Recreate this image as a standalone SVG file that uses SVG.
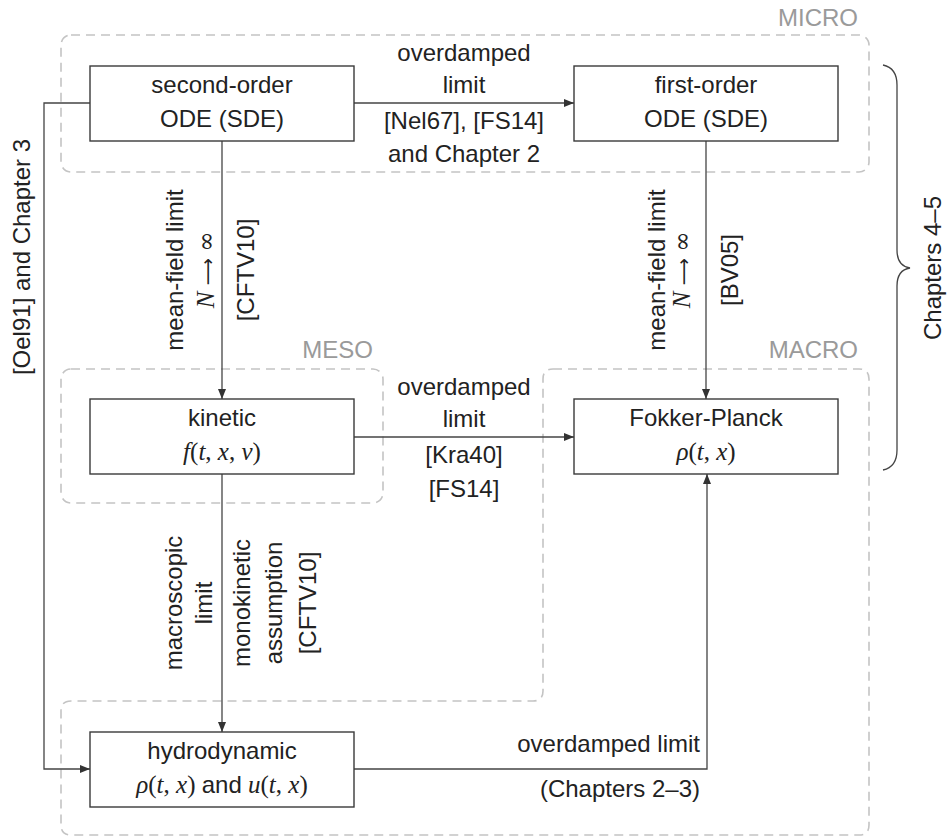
<svg xmlns="http://www.w3.org/2000/svg" width="947" height="840" viewBox="0 0 947 840">
<defs>
<style>
.t{font-family:"Liberation Sans",Arial,sans-serif;font-size:24px;fill:#222;}
.m{font-family:"Liberation Serif","DejaVu Serif",serif;font-size:25px;fill:#222;}
.i{font-style:italic;}
.ar{font-family:"DejaVu Sans",sans-serif;font-size:19px;}
.s{font-family:"DejaVu Serif",serif;font-size:24px;}
.g{font-family:"Liberation Sans",Arial,sans-serif;font-size:24px;fill:#9a9a9a;}
.grp{fill:none;stroke:#c4c4c4;stroke-width:1.6;stroke-dasharray:9 6;}
.box{fill:#fff;stroke:#3a3a3a;stroke-width:1.4;}
.c{fill:none;stroke:#444;stroke-width:1.3;}
</style>
<marker id="ah" viewBox="0 0 10 8" refX="10" refY="4" markerWidth="10" markerHeight="8" markerUnits="userSpaceOnUse" orient="auto">
<path d="M0,0 L10,4 L0,8 Z" fill="#333"/>
</marker>
</defs>
<rect width="947" height="840" fill="#fff"/>

<g id="groups">
<rect class="grp" x="61" y="35" width="808" height="137" rx="10"/>
<text class="g" x="858" y="26" text-anchor="end">MICRO</text>
<rect class="grp" x="61" y="369" width="322" height="134" rx="10"/>
<text class="g" x="373" y="358" text-anchor="end">MESO</text>
<path class="grp" d="M553,369 H859 Q869,369 869,379 V825 Q869,835 859,835 H71 Q61,835 61,825 V711 Q61,701 71,701 H533 Q543,701 543,691 V379 Q543,369 553,369 Z"/>
<text class="g" x="858" y="358" text-anchor="end">MACRO</text>
</g>

<g id="connectors">
<path class="c" d="M354,103 H574" marker-end="url(#ah)"/>
<path class="c" d="M222,141 V399" marker-end="url(#ah)"/>
<path class="c" d="M706,141 V399" marker-end="url(#ah)"/>
<path class="c" d="M354,437 H574" marker-end="url(#ah)"/>
<path class="c" d="M222,474 V732" marker-end="url(#ah)"/>
<path class="c" d="M90,103 H44 V769 H90" marker-end="url(#ah)"/>
<path class="c" d="M354,769 H707 V474" marker-end="url(#ah)"/>

<text class="t" x="464" y="61" text-anchor="middle">overdamped</text>
<text class="t" x="464" y="93" text-anchor="middle">limit</text>
<text class="t" x="464" y="129" text-anchor="middle">[Nel67], [FS14]</text>
<text class="t" x="464" y="162" text-anchor="middle">and Chapter 2</text>

<text class="t" x="464" y="395" text-anchor="middle">overdamped</text>
<text class="t" x="464" y="427" text-anchor="middle">limit</text>
<text class="t" x="464" y="463" text-anchor="middle">[Kra40]</text>
<text class="t" x="464" y="497" text-anchor="middle">[FS14]</text>

<text class="t" transform="translate(183,270) rotate(-90)" text-anchor="middle">mean-field limit</text>
<text class="m" transform="translate(214,270) rotate(-90)" text-anchor="middle"><tspan class="i">N</tspan> <tspan class="ar">⟶</tspan> <tspan class="s">∞</tspan></text>
<text class="t" transform="translate(254,270) rotate(-90)" text-anchor="middle">[CFTV10]</text>

<text class="t" transform="translate(665,270) rotate(-90)" text-anchor="middle">mean-field limit</text>
<text class="m" transform="translate(690,270) rotate(-90)" text-anchor="middle"><tspan class="i">N</tspan> <tspan class="ar">⟶</tspan> <tspan class="s">∞</tspan></text>
<text class="t" transform="translate(738,270) rotate(-90)" text-anchor="middle">[BV05]</text>

<text class="t" transform="translate(182,603) rotate(-90)" text-anchor="middle">macroscopic</text>
<text class="t" transform="translate(212,603) rotate(-90)" text-anchor="middle">limit</text>
<text class="t" transform="translate(250,603) rotate(-90)" text-anchor="middle">monokinetic</text>
<text class="t" transform="translate(282,603) rotate(-90)" text-anchor="middle">assumption</text>
<text class="t" transform="translate(316,603) rotate(-90)" text-anchor="middle">[CFTV10]</text>

<text class="t" transform="translate(30,257) rotate(-90)" text-anchor="middle">[Oel91] and Chapter 3</text>

<text class="t" x="700" y="752" text-anchor="end">overdamped limit</text>
<text class="t" x="700" y="797" text-anchor="end">(Chapters 2–3)</text>
</g>

<g id="brace">
<path class="c" d="M883,65 Q897,68 897,85 V250 Q897,266 910,268 Q897,270 897,286 V450 Q897,467 883,470"/>
<text class="t" transform="translate(941,268) rotate(-90)" text-anchor="middle">Chapters 4–5</text>
</g>

<g id="second-order">
<rect class="box" x="90" y="66" width="264" height="75"/>
<text class="t" x="222" y="93" text-anchor="middle">second-order</text>
<text class="t" x="222" y="127" text-anchor="middle">ODE (SDE)</text>
</g>

<g id="first-order">
<rect class="box" x="574" y="66" width="264" height="75"/>
<text class="t" x="706" y="93" text-anchor="middle">first-order</text>
<text class="t" x="706" y="127" text-anchor="middle">ODE (SDE)</text>
</g>

<g id="kinetic">
<rect class="box" x="90" y="399" width="264" height="75"/>
<text class="t" x="222" y="426" text-anchor="middle">kinetic</text>
<text class="m" x="222" y="460" text-anchor="middle"><tspan class="i">f</tspan>(<tspan class="i">t</tspan>, <tspan class="i">x</tspan>, <tspan class="i">v</tspan>)</text>
</g>

<g id="fokker-planck">
<rect class="box" x="574" y="399" width="264" height="75"/>
<text class="t" x="706" y="426" text-anchor="middle">Fokker-Planck</text>
<text class="m" x="706" y="460" text-anchor="middle"><tspan class="i">ρ</tspan>(<tspan class="i">t</tspan>, <tspan class="i">x</tspan>)</text>
</g>

<g id="hydrodynamic">
<rect class="box" x="90" y="732" width="264" height="75"/>
<text class="t" x="222" y="759" text-anchor="middle">hydrodynamic</text>
<text class="m" x="222" y="793" text-anchor="middle"><tspan class="i">ρ</tspan>(<tspan class="i">t</tspan>, <tspan class="i">x</tspan>) <tspan style="font-family:'Liberation Sans',Arial,sans-serif;font-size:24px">and</tspan> <tspan class="i">u</tspan>(<tspan class="i">t</tspan>, <tspan class="i">x</tspan>)</text>
</g>
</svg>
